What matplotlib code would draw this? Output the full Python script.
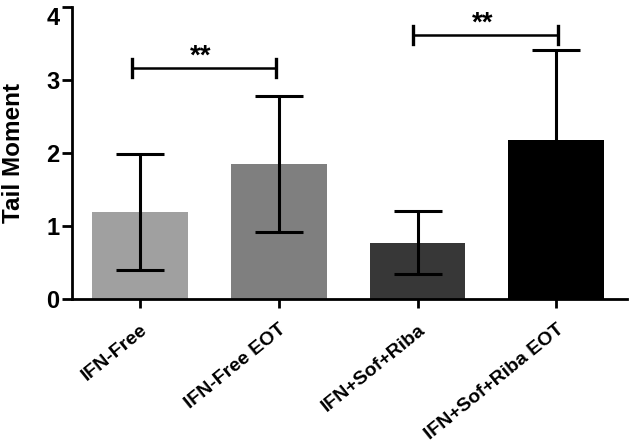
import matplotlib.pyplot as plt
import numpy as np

groups = ["IFN-Free", "IFN-Free EOT", "IFN+Sof+Riba", "IFN+Sof+Riba EOT"]
means = [1.20, 1.86, 0.78, 2.19]
sds = [0.79, 0.93, 0.43, 1.22]
colors = ["#a0a0a0", "#7f7f7f", "#373737", "#000000"]

# significance brackets: (x start, x end, height, label)
brackets = [(-0.06, 0.98, 3.17, "**"), (1.97, 3.01, 3.62, "**")]

plt.rcParams['font.family'] = ['Liberation Sans', 'DejaVu Sans']
fig = plt.figure(figsize=(6.29, 4.44), dpi=100)
ax = fig.add_axes([0.1145, 0.3255, 0.8825, 0.658])

x = np.arange(len(groups))
ax.bar(x, means, width=0.69, color=colors, zorder=1)
ax.errorbar(x, means, yerr=sds, fmt='none', ecolor='black', elinewidth=2.2,
            capsize=17.5, capthick=2.2, zorder=2)

for x0, x1, h, lab in brackets:
    ax.plot([x0, x1], [h, h], color='black', lw=1.8)
    ax.plot([x0, x0], [h - 0.12, h + 0.12], color='black', lw=2.4)
    ax.plot([x1, x1], [h - 0.12, h + 0.12], color='black', lw=2.4)
    ax.text((x0 + x1) / 2 - 0.02, h - 0.02, lab, ha='center', va='bottom',
            fontsize=20, fontweight='bold')

ax.set_xlim(-0.49, 3.51)
ax.set_ylim(0, 4)
ax.set_yticks([0, 1, 2, 3, 4])
ax.set_xticks(x)
ax.set_xticklabels(groups, rotation=39, ha='right', va='top',
                   rotation_mode='anchor', fontsize=14, fontweight='bold')
ylabels = ax.get_yticklabels()
for lbl in ylabels:
    lbl.set_fontweight('bold')
    lbl.set_fontsize(17)
ylabels[-1].set_va('top')  # keep the top "4" inside the figure
ax.set_ylabel("Tail Moment", fontsize=17.5, fontweight='bold')
ax.yaxis.set_label_coords(-0.085, 0.5)

ax.spines['top'].set_visible(False)
ax.spines['right'].set_visible(False)
ax.spines['left'].set_linewidth(2)
ax.spines['bottom'].set_linewidth(2)
ax.tick_params(axis='y', width=2, length=7, pad=2)
ax.tick_params(axis='x', width=2, length=6.5, pad=9)

fig.savefig("out.png", dpi=100)
